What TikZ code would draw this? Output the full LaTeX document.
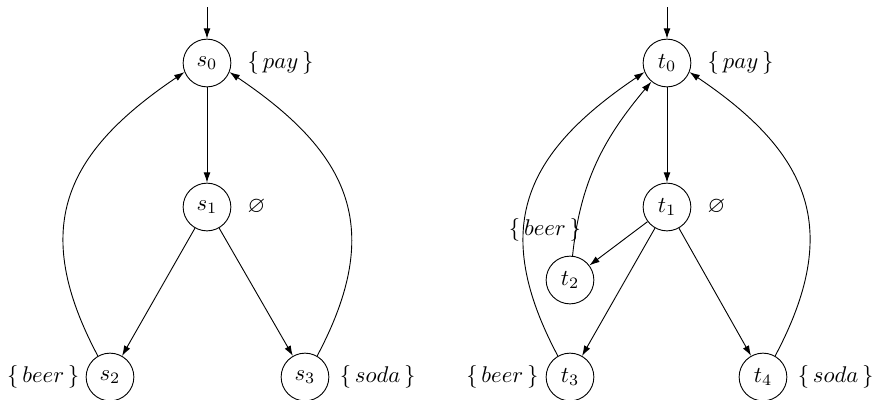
\documentclass[tikz,border=0pt]{standalone}
\usepackage{amsmath,amssymb}
\usepackage{tikz}
\usetikzlibrary{positioning,arrows.meta}

\begin{document}
\begin{tikzpicture}[x=0.44pt, y=-0.44pt,
  st/.style={draw, circle, minimum size=21pt, inner sep=0pt},
  lab/.style={inner sep=0pt},
  arr/.style={-{Latex[length=4.5pt, width=3pt]}}]
\useasboundingbox (0,0) rectangle (874,399);
% left structure
\coordinate (in0) at (207,7);
\node[st] (s0) at (207,63) {$s_0$};
\node[st] (s1) at (207,207) {$s_1$};
\node[st] (s2) at (110,377) {$s_2$};
\node[st] (s3) at (305,377) {$s_3$};
\node[lab, right=7pt of s0] (l0) {$\{\,pay\,\}$};
\node[lab, right=7pt of s1] (l1) {$\varnothing$};
\node[lab, left=2.6pt of s2] (l2) {$\{\,beer\,\}$};
\node[lab, right=4.4pt of s3] (l3) {$\{\,soda\,\}$};
\draw[arr] (in0) -- (s0);
\draw[arr] (s0) -- (s1);
\draw[arr] (s1) -- (s2);
\draw[arr] (s1) -- (s3);
\draw[arr] (s2.120) to[out=118, in=214, looseness=1.25] (s0.202);
\draw[arr] (s3.60) to[out=62, in=-34, looseness=1.25] (s0.-22);
% right structure
\coordinate (in1) at (667,7);
\node[st] (t0) at (667,63) {$t_0$};
\node[st] (t1) at (667,207) {$t_1$};
\node[st] (t2) at (570,280) {$t_2$};
\node[st] (t3) at (570,377) {$t_3$};
\node[st] (t4) at (763,377) {$t_4$};
\node[lab, right=7pt of t0] (m0) {$\{\,pay\,\}$};
\node[lab, right=7pt of t1] (m1) {$\varnothing$};
\node[lab] (m2) at (545,230) {$\{\,beer\,\}$};
\node[lab, left=3pt of t3] (m3) {$\{\,beer\,\}$};
\node[lab, right=4.4pt of t4] (m4) {$\{\,soda\,\}$};
\draw[arr] (in1) -- (t0);
\draw[arr] (t0) -- (t1);
\draw[arr] (t1) -- (t2);
\draw[arr] (t1) -- (t3);
\draw[arr] (t1) -- (t4);
\draw[arr] (t2.84) to[out=84, in=230, looseness=1] (t0);
\draw[arr] (t3.120) to[out=118, in=214, looseness=1.25] (t0.202);
\draw[arr] (t4.60) to[out=62, in=-34, looseness=1.25] (t0.-22);
\end{tikzpicture}
\end{document}
